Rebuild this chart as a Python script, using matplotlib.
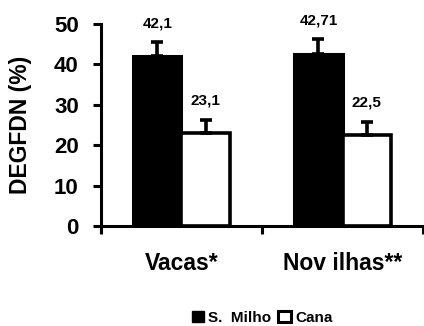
import matplotlib.pyplot as plt
from matplotlib.patches import Patch
import numpy as np

plt.rcParams['font.family'] = ['Liberation Sans', 'DejaVu Sans']
plt.rcParams['font.weight'] = 'bold'

categories = ["Vacas*", "Nov ilhas**"]
milho = [42.1, 42.71]
cana = [23.1, 22.5]
milho_err = [3.5, 3.5]
cana_err = [3.2, 3.2]
milho_labels = ["42,1", "42,71"]
cana_labels = ["23,1", "22,5"]

fig = plt.figure(figsize=(4.24, 3.26), dpi=100)
ax = fig.add_axes([0.238, 0.307, 0.76, 0.619])

x = np.arange(1, len(categories) + 1)
w = 0.30
ax.bar(x - w / 2, milho, w, color="black", edgecolor="black", linewidth=2.2)
ax.bar(x + w / 2, cana, w, color="white", edgecolor="black", linewidth=2.6)
ax.errorbar(x - w / 2, milho, yerr=[np.zeros(2), milho_err], fmt="none",
            ecolor="black", elinewidth=2.6, capsize=4, capthick=2.6)
ax.errorbar(x + w / 2, cana, yerr=[np.zeros(2), cana_err], fmt="none",
            ecolor="black", elinewidth=2.6, capsize=4, capthick=2.6)

# value labels above the error bars
for xi, v, e, t in zip(x - w / 2, milho, milho_err, milho_labels):
    ax.text(xi, v + e + 4.6, t, ha="center", va="center", fontsize=11, fontweight="bold")
for xi, v, e, t in zip(x + w / 2, cana, cana_err, cana_labels):
    ax.text(xi, v + e + 4.8, t, ha="center", va="center", fontsize=11, fontweight="bold")

ax.set_xlim(0.5, 2.5)
ax.set_ylim(0, 50)
ax.set_yticks([0, 10, 20, 30, 40, 50])
ax.set_xticks([0.5, 1.5, 2.5])
ax.set_xticklabels([])
ax.set_xticks(x, minor=True)
ax.set_xticklabels(categories, minor=True, fontsize=16.5, fontweight="bold")
ax.tick_params(axis="x", which="minor", length=0, pad=19)
ax.tick_params(axis="x", which="major", length=6, width=2.2, direction="out")
ax.tick_params(axis="y", length=6, width=2.2, direction="out", labelsize=16, pad=10)
for lbl in ax.get_yticklabels():
    lbl.set_fontweight("bold")

ax.set_ylabel("DEGFDN (%)", fontsize=16.5, fontweight="bold")
ax.yaxis.set_label_coords(-0.214, 0.5)
for side in ["top", "right"]:
    ax.spines[side].set_visible(False)
for side in ["left", "bottom"]:
    ax.spines[side].set_linewidth(2.2)

handles = [Patch(facecolor="black", edgecolor="black", label="S.  Milho"),
           Patch(facecolor="white", edgecolor="black", linewidth=2.2, label="Cana")]
fig.legend(handles=handles, loc="center", bbox_to_anchor=(0.618, 0.025), ncol=2,
           frameon=False, handlelength=0.8, handleheight=0.8,
           handletextpad=0.3, columnspacing=0.45, prop={"weight": "bold", "size": 11})

fig.savefig("out.png", dpi=100)
